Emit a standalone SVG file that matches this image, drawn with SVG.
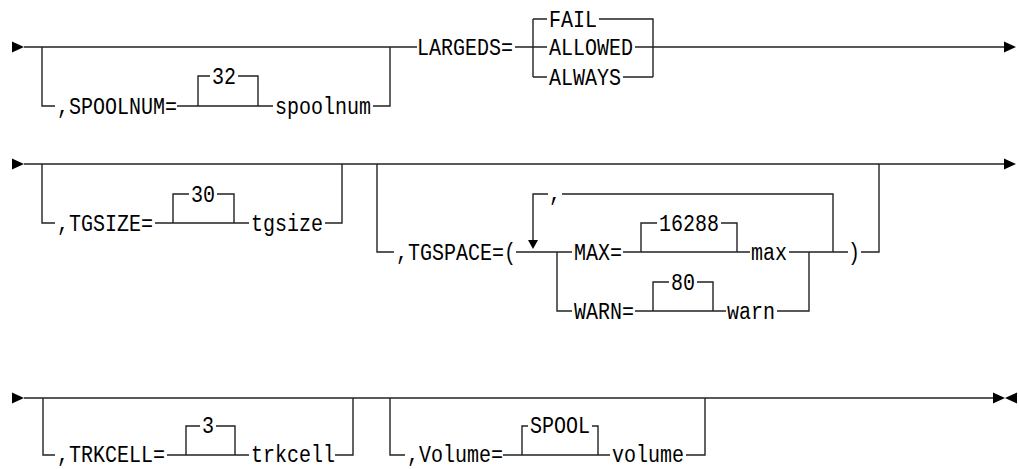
<svg xmlns="http://www.w3.org/2000/svg" width="1019" height="469" viewBox="0 0 1019 469">
<style>
.ln{fill:none;stroke:#222;stroke-width:1.4}
.t{font-family:"Liberation Mono","DejaVu Sans Mono",monospace;font-size:23px;fill:#000}
.ah{fill:#000}
</style>
<defs>
<polygon id="arrR" points="0,-5.5 12,0 0,5.5" class="ah"/>
<polygon id="arrL" points="12,-5.5 0,0 12,5.5" class="ah"/>
</defs>
<rect width="1019" height="469" fill="#fff"/>
<g id="connectors">
<!-- row 1 -->
<path class="ln" d="M24 47 H417 M515 47 H533 M653 47 H1004"/>
<path class="ln" d="M533 19 V77 M533 19 H547 M599 19 H653 V77 M533 47 H547 M635 47 H653 M533 77 H547 M623 77 H653"/>
<path class="ln" d="M42 47 V106 H55 M177 106 H198 H258 M198 106 V76 H210 M238 76 H258 V106 M258 106 H273 M373 106 H390 V47"/>
<!-- row 2 -->
<path class="ln" d="M24 164 H1004"/>
<path class="ln" d="M42 164 V223 H55 M155 223 H173 H234 M173 223 V194 H189 M217 194 H234 V223 M234 223 H249 M325 223 H342 V164"/>
<path class="ln" d="M377 164 V252 H394 M516 252 H572"/>
<path class="ln" d="M533 240 V194 H548 M562 194 H833 V252"/>
<path class="ln" d="M623 252 H641 H737 M641 252 V223 H657 M721 223 H737 V252 M737 252 H750 M789 252 H848 M861 252 H879 V164"/>
<path class="ln" d="M557 252 V311 H572 M635 311 H653 H713 M653 311 V282 H669 M697 282 H713 V311 M713 311 H726 M777 311 H809 V252"/>
<!-- row 3 -->
<path class="ln" d="M24 398 H993"/>
<path class="ln" d="M43 398 V455 H55 M167 455 H186 H235 M186 455 V426 H200 M216 426 H235 V455 M235 455 H249 M335 455 H353 V398"/>
<path class="ln" d="M390 398 V455 H405 M503 455 H522 H598 M522 455 V426 H528 M592 426 H598 V455 M598 455 H610 M686 455 H705 V398"/>
<!-- arrowheads -->
<use href="#arrR" x="12" y="47"/>
<use href="#arrR" x="1004" y="47"/>
<use href="#arrR" x="12" y="164"/>
<use href="#arrR" x="1004" y="164"/>
<use href="#arrR" x="12" y="398"/>
<use href="#arrR" x="993" y="398"/>
<use href="#arrL" x="1005" y="398"/>
<polygon class="ah" points="528,240 538,240 533,249"/>
</g>
<g id="spoolnum-opt"><text class="t" x="57" y="114" textLength="120" lengthAdjust="spacingAndGlyphs">,SPOOLNUM=</text></g>
<g id="spoolnum-default"><text class="t" x="212" y="84" textLength="24" lengthAdjust="spacingAndGlyphs">32</text></g>
<g id="spoolnum-var"><text class="t" x="275" y="114" textLength="96" lengthAdjust="spacingAndGlyphs">spoolnum</text></g>
<g id="largeds"><text class="t" x="417" y="55" textLength="96" lengthAdjust="spacingAndGlyphs">LARGEDS=</text></g>
<g id="fail"><text class="t" x="549" y="27" textLength="48" lengthAdjust="spacingAndGlyphs">FAIL</text></g>
<g id="allowed"><text class="t" x="549" y="55" textLength="84" lengthAdjust="spacingAndGlyphs">ALLOWED</text></g>
<g id="always"><text class="t" x="549" y="85" textLength="72" lengthAdjust="spacingAndGlyphs">ALWAYS</text></g>
<g id="tgsize-opt"><text class="t" x="57" y="231" textLength="96" lengthAdjust="spacingAndGlyphs">,TGSIZE=</text></g>
<g id="tgsize-default"><text class="t" x="191" y="202" textLength="24" lengthAdjust="spacingAndGlyphs">30</text></g>
<g id="tgsize-var"><text class="t" x="251" y="231" textLength="72" lengthAdjust="spacingAndGlyphs">tgsize</text></g>
<g id="tgspace-opt"><text class="t" x="396" y="260" textLength="120" lengthAdjust="spacingAndGlyphs">,TGSPACE=(</text></g>
<g id="repeat-sep"><text class="t" x="549" y="201" textLength="12" lengthAdjust="spacingAndGlyphs">,</text></g>
<g id="max-kw"><text class="t" x="574" y="260" textLength="48" lengthAdjust="spacingAndGlyphs">MAX=</text></g>
<g id="max-default"><text class="t" x="659" y="231" textLength="60" lengthAdjust="spacingAndGlyphs">16288</text></g>
<g id="max-var"><text class="t" x="751" y="260" textLength="36" lengthAdjust="spacingAndGlyphs">max</text></g>
<g id="close-paren"><text class="t" x="848" y="260" textLength="12" lengthAdjust="spacingAndGlyphs">)</text></g>
<g id="warn-kw"><text class="t" x="574" y="319" textLength="60" lengthAdjust="spacingAndGlyphs">WARN=</text></g>
<g id="warn-default"><text class="t" x="671" y="290" textLength="24" lengthAdjust="spacingAndGlyphs">80</text></g>
<g id="warn-var"><text class="t" x="727" y="319" textLength="48" lengthAdjust="spacingAndGlyphs">warn</text></g>
<g id="trkcell-opt"><text class="t" x="57" y="462" textLength="108" lengthAdjust="spacingAndGlyphs">,TRKCELL=</text></g>
<g id="trkcell-default"><text class="t" x="202" y="433" textLength="12" lengthAdjust="spacingAndGlyphs">3</text></g>
<g id="trkcell-var"><text class="t" x="251" y="462" textLength="84" lengthAdjust="spacingAndGlyphs">trkcell</text></g>
<g id="volume-opt"><text class="t" x="407" y="462" textLength="96" lengthAdjust="spacingAndGlyphs">,Volume=</text></g>
<g id="volume-default"><text class="t" x="530" y="433" textLength="60" lengthAdjust="spacingAndGlyphs">SPOOL</text></g>
<g id="volume-var"><text class="t" x="612" y="462" textLength="72" lengthAdjust="spacingAndGlyphs">volume</text></g>
</svg>
